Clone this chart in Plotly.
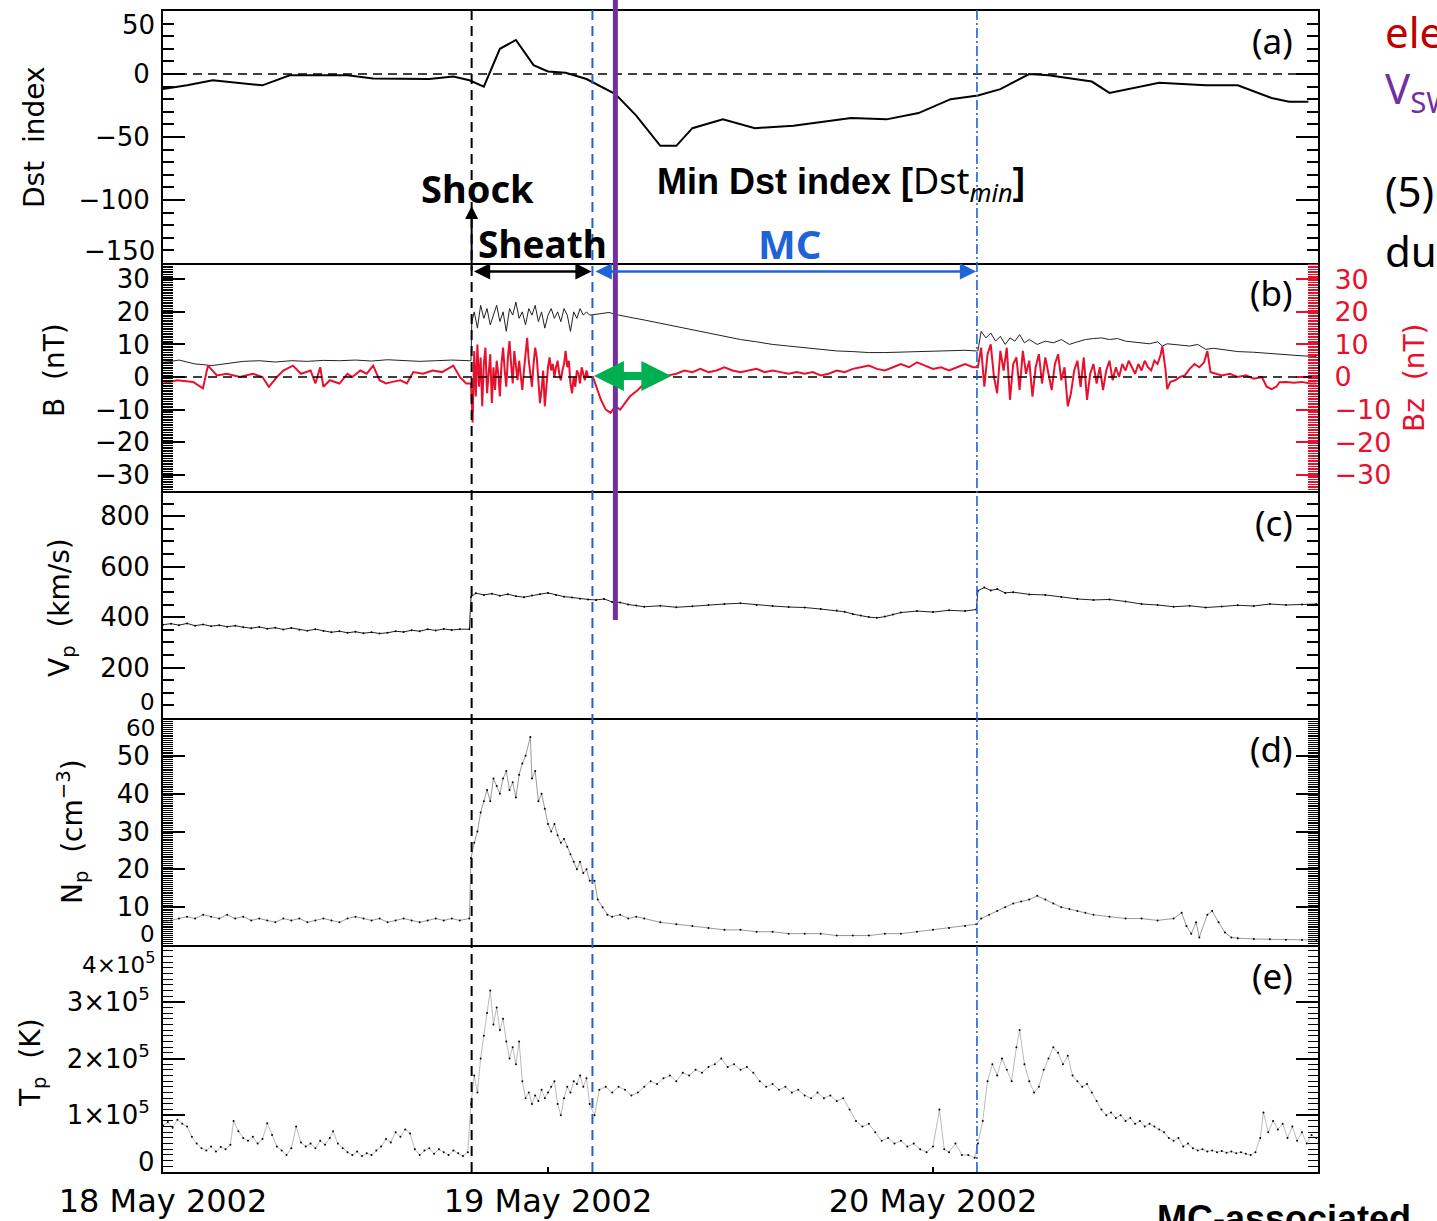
import plotly.graph_objects as go

W, H = 1437, 1221

# ---------------- data (time in hours since 18 May 2002 00:00 UT) ----------------
x_tick_vals = [0, 24, 48]
x_tick_labels = ["18 May 2002", "19 May 2002", "20 May 2002"]

t_shock = 19.24
t_mc_start = 26.77
t_mc_end = 50.74
t_dst_min_line = 28.2
t_green_end = 31.69

dst_t = [0, 1.5, 3.1, 5.4, 6.2, 7.9, 11.5, 13.1, 16.6, 18.1, 19.1, 20.0, 21.0, 22.0, 23.1, 24.0,
         25.1, 26.4, 28.2, 29.5, 31.0, 32.0, 33.0, 34.9, 36.9, 39.3, 42.9, 45.1, 47.1, 49.1, 50.8,
         52.2, 54.0, 55.2, 56.7, 57.9, 59.0, 59.8, 62.1, 65.0, 67.0, 69.1, 70.2, 71.4]
dst_v = [-12, -9, -5, -8, -9, -1, -1, -3.5, -4, -2, -5, -10, 20, 27, 7, 2,
         1, -4, -16, -33, -57, -57, -43, -36, -43, -41, -35, -36, -31, -20, -17,
         -12, 0, -1, -4, -6, -15, -13, -7, -9, -9, -19, -22, -22]

b_pairs = [
    (0, 5), (0.5, 4.8), (1, 5.2), (1.5, 4.5), (2, 4), (2.5, 3.8), (3, 3.5), (3.5, 3.8), (4, 4.2),
    (4.5, 4.5), (5, 4.8), (6, 5), (7, 4.6), (8, 5), (9, 4.8), (10, 5.1), (11, 5), (12, 5.2),
    (13, 4.9), (14, 5.3), (15, 5), (16, 4.8), (17, 5), (18, 5.2), (19.1, 5),
    (19.2, 5), (19.25, 17), (19.4, 20), (19.6, 15), (19.8, 22), (20.0, 18), (20.2, 21), (20.4, 16),
    (20.6, 19), (20.8, 22), (21.0, 17), (21.2, 20), (21.4, 14), (21.6, 21), (21.8, 19), (22.0, 23),
    (22.2, 18), (22.4, 20), (22.6, 16), (22.8, 21), (23.0, 19), (23.2, 22), (23.4, 17), (23.6, 20),
    (23.8, 15), (24.0, 19), (24.2, 21), (24.4, 18), (24.6, 20), (24.8, 17), (25.0, 21), (25.2, 19),
    (25.4, 14), (25.6, 20), (25.8, 18), (26.0, 21), (26.2, 19), (26.4, 20), (26.6, 19),
    (27.2, 19.5), (27.8, 19.8), (28.4, 19), (29, 18.5), (30, 17.5), (31, 16.5), (32, 15.5),
    (33, 14.5), (34, 13.5), (35, 12.5), (36, 11.5), (37, 10.8), (38, 10), (39, 9.5), (40, 9),
    (41, 8.5), (42, 8), (43, 7.8), (44, 7.5), (45, 7.5), (46, 7.6), (47, 7.8), (48, 8), (49, 8),
    (50, 8.2), (50.7, 8),
    (50.8, 8), (51.0, 14), (51.3, 12), (51.6, 13.5), (51.9, 11), (52.2, 12.5), (52.5, 10), (52.8, 12),
    (53.1, 11), (53.4, 13), (53.7, 10.5), (54.0, 11.5), (54.5, 10), (55, 11), (55.5, 10.5), (56, 11.5),
    (56.5, 10), (57, 10.8), (57.5, 11.5), (58, 11.8), (58.5, 12), (59, 11.5), (59.5, 11.8), (60, 11),
    (60.5, 10.8), (61, 10.5), (61.5, 10.2), (62, 10.8), (62.3, 9.5), (62.6, 10.2), (63, 10),
    (63.5, 9.8), (64, 9.5), (64.5, 10), (65, 8.5), (65.5, 8.8), (66, 8.5), (66.5, 8), (67, 7.8),
    (68, 7.6), (69, 7.2), (70, 6.8), (71, 6.5), (71.9, 6.3),
]

bz_pairs = [
    (0, -2), (0.87, -1), (1.87, -1.5), (2.49, -3.5), (2.8, 3.5), (3.36, 0.5), (3.98, 1), (4.79, 0),
    (5.6, 1), (6.2, 0), (6.6, -3), (7.1, 0), (7.5, 2), (8.1, 3.5), (8.6, 1), (9.2, 2), (9.5, -2),
    (9.8, 3), (10.0, -3), (10.4, -1), (11.0, -2), (11.5, 1), (11.8, 0), (12.3, 2), (12.7, 1),
    (13.1, 3.5), (13.5, -1), (13.9, -2), (14.3, -1.5), (14.8, -1), (15.2, -2), (15.6, 1.5),
    (16.2, 1), (16.8, 2), (17.4, 1.5), (18.1, 3.5), (18.5, 0), (18.9, -2),
    (19.2, -2), (19.3, -14), (19.4, 8), (19.5, -6), (19.6, 10), (19.7, -3), (19.8, 6), (19.9, -9),
    (20.0, 4), (20.1, 9), (20.2, -5), (20.3, 2), (20.4, 7), (20.5, -8), (20.6, 3), (20.7, -4),
    (20.8, 5), (20.9, 1), (21.0, -6), (21.1, 4), (21.2, 9), (21.3, 2), (21.4, -3), (21.5, 6),
    (21.6, 11), (21.7, 4), (21.8, -2), (21.9, 8), (22.0, 3), (22.1, -1), (22.2, 5), (22.3, 0),
    (22.4, -4), (22.5, 2), (22.6, 7), (22.7, 12), (22.8, 5), (22.9, 1), (23.0, -3), (23.1, 4),
    (23.2, 9), (23.3, 6), (23.4, -1), (23.5, -8), (23.6, -4), (23.7, 2), (23.8, -9), (23.9, -2),
    (24.0, 3), (24.1, 6), (24.2, 2), (24.3, 4), (24.4, 0), (24.5, 3), (24.6, 5), (24.7, 1),
    (24.8, -1), (24.9, 2), (25.0, 4), (25.1, 8), (25.2, 3), (25.3, 5), (25.4, -2), (25.5, -5),
    (25.6, 0), (25.7, -3), (25.8, 2), (25.9, 1), (26.0, -2), (26.1, 3), (26.2, 1), (26.3, -1),
    (26.4, 2), (26.5, 0),
    (26.8, 0), (27.0, -3), (27.3, -7), (27.6, -10), (27.9, -11), (28.2, -9), (28.5, -10), (28.8, -8),
    (29.1, -6), (29.6, -4), (30.0, -2), (30.5, -1), (31.0, 0), (31.5, 0.5), (32.0, 1), (32.5, 2),
    (33.0, 1.5), (33.5, 2.5), (34.0, 1.5), (34.5, 2), (35.0, 3), (35.5, 2), (36.0, 1.5), (36.5, 2),
    (37.0, 2.5), (37.5, 1.5), (38.0, 2), (38.5, 1.5), (39.0, 1), (39.5, 1.5), (40.0, 1), (40.5, 1.5),
    (41.0, 0.5), (41.5, 1), (42.0, 2), (42.5, 1.5), (43.0, 2.5), (43.5, 3), (44.0, 3.5), (44.5, 2.5),
    (45.0, 2), (45.5, 3), (46.0, 4), (46.5, 3), (47.0, 4.5), (47.5, 3.5), (48.0, 2.5), (48.5, 3),
    (49.0, 2), (49.5, 3), (50.0, 4), (50.5, 3),
    (50.8, 3), (51.0, 9), (51.2, -3), (51.4, 7), (51.6, 10), (51.8, 0), (52.0, -5), (52.2, 8),
    (52.4, 2), (52.6, 9), (52.8, -7), (53.0, 4), (53.2, 6), (53.4, -4), (53.6, 8), (53.8, 1),
    (54.0, 5), (54.2, -6), (54.4, 3), (54.6, 7), (54.8, -2), (55.0, 6), (55.2, 1), (55.4, -4),
    (55.6, 4), (55.8, 7), (56.0, -1), (56.2, 3), (56.4, -9), (56.6, -5), (56.8, 2), (57.0, 5),
    (57.2, -3), (57.4, 6), (57.6, -7), (57.8, 1), (58.0, 4), (58.2, -2),
    (58.4, 3), (58.6, -4), (58.8, 2), (59.0, 5), (59.2, -1), (59.4, 3), (59.6, 0), (59.8, 4),
    (60.0, 2), (60.2, 5), (60.4, 3), (60.6, 1), (60.8, 4), (61.0, 2), (61.2, 5), (61.4, 3),
    (61.6, 2), (61.8, 5), (62.0, 4), (62.2, 7), (62.3, 9.5), (62.5, 2), (62.6, -3.7), (62.8, -1.5),
    (63.1, -1), (63.4, 0), (63.7, 0.5), (64.0, 2.5), (64.3, 4), (64.6, 3), (64.9, 4.5), (65.1, 8),
    (65.3, 1.5), (65.6, 1), (66.0, 0.5), (66.5, 1), (67.0, 0), (67.5, 0.5), (68.0, -0.5),
    (68.5, 0), (68.8, -3), (69.1, -3.7), (69.4, -3), (69.6, -1.6), (70.0, -1.5), (70.5, -1.8),
    (71.0, -1.5), (71.5, -2), (71.9, -2),
]

vp_pairs = [
    (0, 370), (0.5, 374), (1, 368), (1.5, 375), (2, 366), (2.5, 371), (3, 364), (3.5, 368),
    (4, 362), (4.5, 366), (5, 360), (5.5, 356), (6, 361), (6.5, 354), (7, 358), (7.5, 351),
    (8, 357), (8.5, 350), (9, 346), (9.5, 352), (10, 345), (10.5, 340), (11, 344), (11.5, 338),
    (12, 342), (12.5, 336), (13, 340), (13.5, 335), (14, 338), (14.5, 344), (15, 341), (15.5, 348),
    (16, 344), (16.5, 352), (17, 347), (17.5, 353), (18, 349), (18.5, 352), (19.1, 352),
    (19.2, 480), (19.5, 495), (20, 488), (20.5, 493), (21, 485), (21.5, 491), (22, 483),
    (22.5, 479), (23, 486), (23.5, 491), (24, 496), (24.5, 488), (25, 481), (25.5, 478),
    (26, 473), (26.5, 470),
    (27, 468), (27.5, 472), (28, 460), (28.5, 458), (29, 450), (29.5, 446), (30, 441), (31, 445),
    (32, 439), (33, 443), (34, 448), (35, 452), (36, 455), (37, 448), (38, 444), (39, 440),
    (40, 438), (41, 432), (42, 426), (42.5, 421), (43, 412), (43.5, 406), (44, 400), (44.5, 397),
    (45, 402), (45.5, 410), (46, 418), (47, 424), (48, 420), (49, 427), (50, 424), (50.7, 430),
    (50.8, 505), (51.2, 517), (51.6, 506), (52, 511), (52.5, 496), (53, 499), (54, 490),
    (55, 488), (56, 480), (57, 472), (58, 468), (59, 470), (60, 462), (61, 452), (62, 448),
    (63, 441), (64, 445), (65, 438), (66, 442), (67, 447), (68, 444), (69, 452), (70, 448),
    (71, 450), (71.9, 452),
]

np_pairs = [
    (0, 6), (0.5, 6.5), (1, 7), (1.5, 7.5), (2, 7), (2.5, 8), (3, 7.5), (3.5, 7), (4, 8),
    (4.5, 7), (5, 7.5), (5.5, 6.5), (6, 7), (6.5, 6.5), (7, 6), (7.5, 7), (8, 6.5), (8.5, 7),
    (9, 6), (9.5, 6.5), (10, 7), (10.5, 6.5), (11, 6), (11.5, 7), (12, 7.5), (12.5, 7),
    (13, 6.5), (13.5, 7), (14, 6), (14.5, 6.5), (15, 7), (15.5, 6.5), (16, 6), (16.5, 6.5),
    (17, 7), (17.5, 6.5), (18, 7), (18.5, 6.5), (19.1, 7),
    (19.2, 23), (19.4, 27), (19.6, 30), (19.8, 35), (20.0, 38), (20.2, 41), (20.4, 38),
    (20.6, 44), (20.8, 42), (21.0, 40), (21.2, 44), (21.4, 46), (21.6, 41), (21.8, 43),
    (22.0, 39), (22.2, 45), (22.4, 48), (22.6, 50), (22.9, 55), (23.0, 44), (23.2, 46),
    (23.4, 38), (23.6, 40), (23.8, 36), (24.0, 32), (24.2, 30), (24.4, 32), (24.6, 29),
    (24.8, 27), (25.0, 28), (25.2, 26), (25.4, 24), (25.6, 22), (25.8, 20), (26.0, 22),
    (26.2, 19), (26.4, 20), (26.6, 17), (26.9, 17), (27.1, 12), (27.4, 10), (27.7, 8),
    (28, 7.5), (28.5, 8), (29, 7), (29.5, 7.5), (30, 7), (31, 6), (32, 5.5), (33, 5), (34, 4.5),
    (35, 4), (36, 4), (37, 3.5), (38, 3.5), (39, 3), (40, 3), (41, 3), (42, 2.5), (43, 2.5),
    (44, 2.5), (45, 3), (46, 3), (47, 3.5), (48, 4), (49, 4.5), (50, 5), (50.7, 5.5),
    (51, 7), (51.5, 8), (52, 9), (52.5, 10), (53, 11), (53.5, 11.5), (54, 12), (54.5, 13),
    (55, 12), (55.5, 11), (56, 10), (56.5, 9.5), (57, 9), (57.5, 8.5), (58, 8), (59, 7.5),
    (60, 7), (61, 7), (62, 6.5), (63, 7), (63.5, 8.5), (63.8, 5), (64.1, 3), (64.4, 6),
    (64.6, 2), (65.1, 8), (65.4, 9), (65.8, 6), (66.2, 3.3), (66.6, 2), (67, 1.8), (68, 1.6),
    (69, 1.5), (70, 1.4), (71, 1.3), (71.9, 1.3),
]

tp_pairs = [
    (0, 0.82e5), (0.3, 0.88e5), (0.6, 0.78e5), (0.9, 0.92e5), (1.2, 0.85e5), (1.5, 0.8e5),
    (1.8, 0.62e5), (2.1, 0.5e5), (2.4, 0.42e5), (2.7, 0.38e5), (3.0, 0.45e5), (3.3, 0.36e5),
    (3.6, 0.44e5), (3.9, 0.4e5), (4.2, 0.48e5), (4.4, 0.9e5), (4.7, 0.72e5), (5.0, 0.6e5),
    (5.3, 0.55e5), (5.6, 0.62e5), (5.9, 0.5e5), (6.2, 0.58e5), (6.5, 0.86e5), (6.8, 0.65e5),
    (7.1, 0.45e5), (7.4, 0.38e5), (7.7, 0.3e5), (8.0, 0.42e5), (8.3, 0.8e5), (8.6, 0.52e5),
    (8.9, 0.45e5), (9.2, 0.5e5), (9.5, 0.42e5), (9.8, 0.55e5), (10.1, 0.48e5), (10.4, 0.6e5),
    (10.6, 0.72e5), (10.9, 0.5e5), (11.2, 0.42e5), (11.5, 0.35e5), (11.8, 0.3e5), (12.1, 0.36e5),
    (12.4, 0.28e5), (12.7, 0.33e5), (13.0, 0.3e5), (13.3, 0.38e5), (13.6, 0.45e5), (13.9, 0.58e5),
    (14.2, 0.52e5), (14.5, 0.7e5), (14.8, 0.62e5), (15.1, 0.75e5), (15.4, 0.68e5), (15.7, 0.4e5),
    (16.0, 0.3e5), (16.3, 0.38e5), (16.6, 0.42e5), (16.9, 0.32e5), (17.2, 0.4e5), (17.5, 0.35e5),
    (17.8, 0.3e5), (18.1, 0.38e5), (18.4, 0.33e5), (18.7, 0.28e5), (19.0, 0.35e5),
    (19.2, 1.2e5), (19.4, 1.7e5), (19.6, 1.4e5), (19.8, 2.0e5), (20.0, 2.4e5), (20.2, 2.8e5),
    (20.4, 3.2e5), (20.6, 2.6e5), (20.8, 2.9e5), (21.0, 2.5e5), (21.2, 2.7e5), (21.4, 2.3e5),
    (21.6, 2.0e5), (21.8, 2.2e5), (22.0, 1.9e5), (22.2, 2.3e5), (22.4, 1.6e5), (22.6, 1.3e5),
    (22.8, 1.4e5), (23.0, 1.2e5), (23.2, 1.35e5), (23.4, 1.25e5), (23.6, 1.45e5), (23.8, 1.3e5),
    (24.0, 1.4e5), (24.2, 1.5e5), (24.4, 1.6e5), (24.6, 1.2e5), (24.8, 1.0e5), (25.0, 1.3e5),
    (25.2, 1.5e5), (25.4, 1.4e5), (25.6, 1.6e5), (25.8, 1.55e5), (26.0, 1.7e5), (26.2, 1.5e5),
    (26.4, 1.65e5),
    (26.6, 1.2e5), (26.9, 1.0e5), (27.2, 1.45e5), (27.6, 1.5e5), (28.0, 1.4e5), (28.4, 1.5e5),
    (28.8, 1.45e5), (29.2, 1.35e5), (29.6, 1.4e5), (30.0, 1.5e5), (30.4, 1.6e5), (30.8, 1.55e5),
    (31.2, 1.65e5), (31.6, 1.7e5), (32.0, 1.6e5), (32.4, 1.75e5), (32.8, 1.7e5), (33.2, 1.8e5),
    (33.6, 1.75e5), (34.0, 1.85e5), (34.4, 1.9e5), (34.8, 2.0e5), (35.2, 1.85e5), (35.6, 1.9e5),
    (36.0, 1.8e5), (36.4, 1.85e5), (36.8, 1.75e5), (37.2, 1.6e5), (37.6, 1.5e5), (38.0, 1.55e5),
    (38.4, 1.45e5), (38.8, 1.5e5), (39.2, 1.4e5), (39.6, 1.45e5), (40.0, 1.35e5), (40.4, 1.3e5),
    (40.8, 1.4e5), (41.2, 1.3e5), (41.6, 1.35e5), (42.0, 1.25e5), (42.4, 1.3e5), (42.8, 1.1e5),
    (43.2, 0.9e5), (43.6, 0.8e5), (44.0, 0.85e5), (44.4, 0.7e5), (44.8, 0.55e5), (45.2, 0.6e5),
    (45.6, 0.5e5), (46.0, 0.55e5), (46.4, 0.45e5), (46.8, 0.5e5), (47.2, 0.4e5), (47.6, 0.35e5),
    (48.0, 0.45e5), (48.4, 1.1e5), (48.7, 0.4e5), (49.0, 0.35e5), (49.4, 0.5e5), (49.8, 0.3e5),
    (50.2, 0.3e5), (50.6, 0.25e5),
    (50.8, 0.5e5), (51.1, 0.9e5), (51.4, 1.6e5), (51.7, 1.9e5), (52.0, 1.7e5), (52.3, 2.0e5),
    (52.6, 1.8e5), (52.9, 1.6e5), (53.2, 2.2e5), (53.4, 2.5e5), (53.7, 1.9e5), (54.0, 1.6e5),
    (54.3, 1.4e5), (54.6, 1.5e5), (54.9, 1.8e5), (55.2, 2.0e5), (55.5, 2.2e5), (55.8, 2.1e5),
    (56.1, 1.9e5), (56.4, 2.05e5), (56.7, 1.7e5), (57.0, 1.6e5), (57.3, 1.5e5), (57.6, 1.55e5),
    (57.9, 1.4e5), (58.2, 1.25e5), (58.5, 1.1e5), (58.8, 1.0e5), (59.1, 1.05e5), (59.4, 0.95e5),
    (59.7, 1.0e5), (60.0, 0.9e5), (60.3, 0.95e5), (60.6, 0.85e5), (60.9, 0.9e5), (61.2, 0.8e5),
    (61.5, 0.85e5), (61.8, 0.8e5), (62.1, 0.75e5), (62.4, 0.7e5), (62.7, 0.6e5), (63.0, 0.55e5),
    (63.3, 0.6e5), (63.6, 0.45e5), (63.9, 0.5e5), (64.2, 0.42e5), (64.5, 0.38e5), (64.8, 0.4e5),
    (65.1, 0.36e5), (65.4, 0.38e5), (65.7, 0.35e5), (66.0, 0.37e5), (66.3, 0.34e5), (66.6, 0.36e5),
    (66.9, 0.33e5), (67.2, 0.35e5), (67.5, 0.32e5), (67.8, 0.3e5), (68.1, 0.35e5), (68.4, 0.6e5),
    (68.6, 1.05e5), (68.9, 0.7e5), (69.2, 0.9e5), (69.5, 0.75e5), (69.8, 0.85e5), (70.1, 0.6e5),
    (70.4, 0.8e5), (70.7, 0.55e5), (71.0, 0.7e5), (71.3, 0.5e5), (71.6, 0.65e5), (71.9, 0.6e5),
]

# ---------------- styling helpers ----------------
RED = "#E8112D"
BLUE = "#1F64D6"
PURPLE = "#7030A0"
GREEN = "#00B050"
TICKFONT = dict(family="DejaVu Sans", size=26, color="black")


def px(x):
    return x / W


def py(y):
    return 1 - y / H


def unzip(pairs):
    return [p[0] for p in pairs], [p[1] for p in pairs]


XD = [px(163), px(1318)]

fig = go.Figure()

fig.add_trace(go.Scatter(x=dst_t, y=dst_v, mode="lines", line=dict(color="black", width=2),
                         xaxis="x", yaxis="y", showlegend=False))
bt, bv = unzip(b_pairs)
fig.add_trace(go.Scatter(x=bt, y=bv, mode="lines", line=dict(color="#222", width=1),
                         xaxis="x2", yaxis="y2", showlegend=False))
zt, zv = unzip(bz_pairs)
fig.add_trace(go.Scatter(x=zt, y=zv, mode="lines", line=dict(color=RED, width=2),
                         xaxis="x2", yaxis="y6", showlegend=False))
vt, vv = unzip(vp_pairs)
fig.add_trace(go.Scatter(x=vt, y=vv, mode="lines+markers", line=dict(color="#222", width=1),
                         marker=dict(size=2, color="black"),
                         xaxis="x3", yaxis="y3", showlegend=False))
nt, nv = unzip(np_pairs)
fig.add_trace(go.Scatter(x=nt, y=nv, mode="lines+markers", line=dict(color="#555", width=0.6),
                         marker=dict(size=2, color="black"),
                         xaxis="x4", yaxis="y4", showlegend=False))
tt, tv = unzip(tp_pairs)
fig.add_trace(go.Scatter(x=tt, y=tv, mode="lines+markers", line=dict(color="#777", width=0.5),
                         marker=dict(size=2, color="black"),
                         xaxis="x5", yaxis="y5", showlegend=False))

layout = dict(width=W, height=H, margin=dict(l=0, r=0, t=0, b=0, autoexpand=False),
              paper_bgcolor="white", plot_bgcolor="white", showlegend=False)

for i in range(1, 6):
    xa = dict(domain=XD, range=[0, 72], showgrid=False, zeroline=False, showline=True,
              linecolor="black", linewidth=2, mirror=(i == 1), ticks="", showticklabels=False,
              automargin=False, anchor="y" if i == 1 else f"y{i}")
    if i == 5:
        xa.update(ticks="inside", ticklen=5, tickwidth=2, tickcolor="black",
                  tickvals=x_tick_vals, ticktext=x_tick_labels, showticklabels=True,
                  tickfont=dict(family="DejaVu Sans", size=32, color="black"))
    layout["xaxis" if i == 1 else f"xaxis{i}"] = xa

common_y = dict(showgrid=False, zeroline=False, showline=True, linecolor="black", linewidth=2,
                ticks="inside", ticklen=22, tickwidth=2, tickcolor="black", tickfont=TICKFONT,
                ticklabelstandoff=6, automargin=False)
MINUS = "\u2212"
b_labels = [MINUS + "30", MINUS + "20", MINUS + "10", "0", "10", "20", "30"]

layout["yaxis"] = dict(common_y, domain=[py(263), py(11)], range=[-150, 50], anchor="x",
                       mirror="allticks", tickvals=[-150, -100, -50, 0, 50],
                       ticktext=["", MINUS + "100", MINUS + "50", "0", ""],
                       minor=dict(dtick=10, ticklen=11, tickwidth=1.5, ticks="inside", tickcolor="black"))
layout["yaxis2"] = dict(common_y, domain=[py(491), py(263)], range=[-35, 35], anchor="x2",
                        mirror=False, tickvals=[-30, -20, -10, 0, 10, 20, 30], ticktext=b_labels,
                        minor=dict(dtick=0.5, ticklen=10, tickwidth=1, ticks="inside", tickcolor="black"))
layout["yaxis6"] = dict(common_y, range=[-35, 35], anchor="x2", overlaying="y2", side="right",
                        mirror=False, tickcolor=RED, tickvals=[-30, -20, -10, 0, 10, 20, 30],
                        ticktext=b_labels, ticklabelstandoff=9,
                        tickfont=dict(family="DejaVu Sans", size=27, color=RED),
                        minor=dict(dtick=0.5, ticklen=10, tickwidth=1, ticks="inside", tickcolor=RED))
layout["yaxis3"] = dict(common_y, domain=[py(718), py(491)], range=[0, 900], anchor="x3",
                        mirror="allticks", tickvals=[0, 200, 400, 600, 800],
                        ticktext=["", "200", "400", "600", "800"],
                        minor=dict(dtick=50, ticklen=11, tickwidth=1.5, ticks="inside", tickcolor="black"))
layout["yaxis4"] = dict(common_y, domain=[py(945), py(718)], range=[0, 60], anchor="x4",
                        mirror="allticks", tickvals=[0, 10, 20, 30, 40, 50, 60],
                        ticktext=["", "10", "20", "30", "40", "50", ""],
                        minor=dict(dtick=0.5, ticklen=10, tickwidth=1, ticks="inside", tickcolor="black"))
layout["yaxis5"] = dict(common_y, domain=[py(1172), py(945)], range=[0, 4e5], anchor="x5",
                        mirror="allticks", tickvals=[0, 1e5, 2e5, 3e5, 4e5],
                        ticktext=["", "1\u00d710<sup>5</sup>", "2\u00d710<sup>5</sup>",
                                  "3\u00d710<sup>5</sup>", ""],
                        minor=dict(dtick=1e4, ticklen=10, tickwidth=1.2, ticks="inside", tickcolor="black"))

# ---------------- shapes ----------------
shapes = []
shapes.append(dict(type="line", xref="x", yref="y", x0=0, x1=72, y0=0, y1=0,
                   line=dict(color="black", width=1.5, dash="9px,6px")))
shapes.append(dict(type="line", xref="x2", yref="y2", x0=0, x1=72, y0=0, y1=0,
                   line=dict(color="black", width=1.5, dash="9px,6px")))
shapes.append(dict(type="line", xref="x5", yref="paper", x0=t_shock, x1=t_shock,
                   y0=py(1172), y1=py(11), line=dict(color="black", width=2, dash="10px,6px")))
shapes.append(dict(type="line", xref="x5", yref="paper", x0=t_mc_start, x1=t_mc_start,
                   y0=py(1172), y1=py(8), line=dict(color=BLUE, width=2, dash="10px,6px")))
shapes.append(dict(type="line", xref="x5", yref="paper", x0=t_mc_end, x1=t_mc_end,
                   y0=py(1172), y1=py(8), line=dict(color=BLUE, width=1.6, dash="10px,3px,2px,3px")))
shapes.append(dict(type="line", xref="x5", yref="paper", x0=t_dst_min_line, x1=t_dst_min_line,
                   y0=py(620), y1=1.0, line=dict(color=PURPLE, width=5)))
layout["shapes"] = shapes

# ---------------- annotations ----------------
ann = []


def text(x, y, s, size=28, color="black", family="DejaVu Sans", xanchor="center",
         yanchor="middle", angle=0):
    ann.append(dict(xref="paper", yref="paper", x=px(x), y=py(y), text=s, showarrow=False,
                    xanchor=xanchor, yanchor=yanchor, textangle=angle,
                    font=dict(family=family, size=size, color=color)))


# edge tick labels (shifted inward as in the original)
text(157, 25, "50", size=26, xanchor="right")
text(157, 251, MINUS + "150", size=26, xanchor="right")
text(157, 702, "0", size=23, xanchor="right")
text(157, 728, "60", size=23, xanchor="right")
text(157, 934, "0", size=23, xanchor="right")
text(157, 963, "4\u00d710<sup>5</sup>", size=23, xanchor="right")
text(157, 1162, "0", size=26, xanchor="right")

# axis titles
text(35, 137, "Dst  index", angle=-90)
text(55, 370, "B  (nT)", angle=-90)
text(62, 607, "V<sub>p</sub>  (km/s)", angle=-90)
text(72, 832, "N<sub>p</sub>  (cm<sup>" + MINUS + "3</sup>)", angle=-90)
text(32, 1063, "T<sub>p</sub>  (K)", angle=-90)
text(1414, 378, "Bz  (nT)", color=RED, angle=-90)

for lab, yy in [("(a)", 40), ("(b)", 293), ("(c)", 522), ("(d)", 748), ("(e)", 975)]:
    text(1295, yy, lab, size=35, family="Noto Sans", xanchor="right")

text(419, 188, "<b>Shock</b>", size=38, family="Noto Sans", xanchor="left")
text(476, 243, "<b>Sheath</b>", size=37, family="Noto Sans", xanchor="left")
text(789, 243, "<b>MC</b>", size=40, family="Noto Sans", color=BLUE)
text(655, 182, "<b>Min Dst index [</b><span style='font-family:Noto Sans'>Dst<sub><i>min</i></sub></span><b>]</b>",
     size=36, family="Liberation Sans", xanchor="left")

# slide text at right / bottom (cut by the page edge like the original)
text(1383, 32, "electric field", size=42, family="Noto Sans", color="#C00000", xanchor="left")
text(1383, 90, "V<sub>SW</sub>", size=42, family="Noto Sans", color=PURPLE, xanchor="left")
text(1383, 190, "(5)", size=42, family="Noto Sans", xanchor="left")
text(1383, 250, "during", size=42, family="Noto Sans", xanchor="left")
text(1155, 1218, "<b>MC-associated</b>", size=36, family="Liberation Sans", xanchor="left")

# arrows
ann.append(dict(xref="x", yref="paper", x=t_shock, y=py(206), axref="pixel", ayref="pixel",
                ax=0, ay=66, text="", showarrow=True, arrowhead=2, arrowsize=1.3,
                arrowwidth=2, arrowcolor="black"))
ann.append(dict(xref="x2", yref="y2", x=t_mc_start - 0.05, y=32.4, axref="x2", ayref="y2",
                ax=t_shock + 0.05, ay=32.4, text="", showarrow=True, arrowhead=2, arrowside="end+start",
                arrowsize=1.3, arrowwidth=2.5, arrowcolor="black"))
ann.append(dict(xref="x2", yref="y2", x=t_mc_end - 0.05, y=32.4, axref="x2", ayref="y2",
                ax=t_mc_start + 0.1, ay=32.4, text="", showarrow=True, arrowhead=2, arrowside="end+start",
                arrowsize=1.3, arrowwidth=2.5, arrowcolor=BLUE))
ann.append(dict(xref="x2", yref="y2", x=t_green_end, y=0.3, axref="x2", ayref="y2",
                ax=t_mc_start, ay=0.3, text="", showarrow=True, arrowhead=2, arrowside="end+start",
                arrowsize=0.75, arrowwidth=8, arrowcolor=GREEN))

layout["annotations"] = ann
fig.update_layout(**layout)
fig.write_html("out.html")
